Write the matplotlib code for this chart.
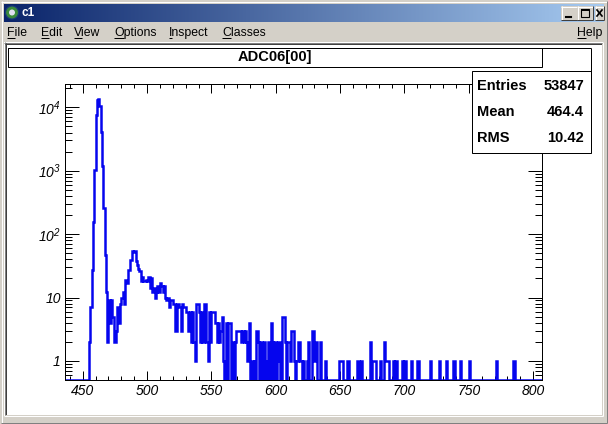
import numpy as np
import matplotlib
matplotlib.use("Agg")
import matplotlib.pyplot as plt
from matplotlib.patches import Rectangle
from matplotlib.ticker import FixedLocator, MultipleLocator, NullFormatter

plt.rcParams['font.family'] = ['Liberation Sans', 'DejaVu Sans']
plt.rcParams['mathtext.fontset'] = 'custom'
plt.rcParams['mathtext.rm'] = 'Liberation Sans:italic'
plt.rcParams['mathtext.it'] = 'Liberation Sans:italic'
plt.rcParams['mathtext.bf'] = 'Liberation Sans:bold'

# ---------------- data ----------------
window_title = "c1"
menu_items = ["File", "Edit", "View", "Options", "Inspect", "Classes"]
help_item = "Help"
hist_title = "ADC06[00]"
stats_names = ["Entries", "Mean", "RMS"]
stats_values = ["53847", "464.4", "10.42"]

axis_first_edge = 436
axis_last_edge = 807
main_first_bin = 455
main_counts = [
    2, 7, 27, 157, 1030, 7600, 13000, 13400, 10500, 4150, 1200, 260, 47, 12,   # 455-468
    2, 9, 4, 9, 5, 2, 2, 3, 7, 4, 8,                                           # 469-479
    10, 12, 8, 19, 17, 27, 27, 39, 55, 52,                                     # 480-489
    55, 37, 33, 28, 26, 18, 21, 18, 18, 19,                                    # 490-499
    18, 21, 14, 20, 12, 14, 10, 12, 15, 12,                                    # 500-509
    17, 15, 12, 15, 10, 9, 10, 7, 9, 9,                                        # 510-519
    8, 8, 3, 8, 8, 7, 3, 8, 7, 7,                                              # 520-529
    6, 6, 3, 6, 2, 6, 2, 1, 8, 8,                                              # 530-539
    6, 2, 6, 2, 8, 8, 2, 1, 6, 2,                                              # 540-549
    6, 6, 6, 4, 2, 4, 2, 3, 5, 1,                                              # 550-559
    0, 4, 0, 4, 4, 0, 2, 0, 2, 3,                                              # 560-569
    3, 3, 3, 2, 3, 2, 3, 2, 1, 4,                                              # 570-579
    0, 1, 0, 1, 0, 3, 2, 0, 2, 0,                                              # 580-589
    1, 2, 0, 1, 2, 0, 4, 2, 0, 2,                                              # 590-599
    0, 1, 2, 0, 0, 5, 5, 2, 0, 2,                                              # 600-609
    2, 1, 3, 3, 1, 0, 1, 2, 2, 1,                                              # 610-619
    0, 1, 0, 0, 1, 2, 0, 0, 3, 3,                                              # 620-629
    1, 2, 0, 0, 2, 0, 0, 0, 1, 0,                                              # 630-639
]
tail_bins = [649, 650, 651, 655, 656, 663, 664, 666, 673, 675, 676, 677, 681,
             684, 685, 686, 687, 691, 693, 698, 700, 705, 710, 720, 727, 732,
             738, 743, 750, 771, 784, 785]
tail_counts = [1, 1, 1, 1, 1, 1, 1, 1, 2, 1, 1, 1, 1,
               2, 1, 1, 1, 1, 1, 1, 1, 1, 1, 1, 1, 1,
               1, 1, 1, 1, 1, 1]

x_ticks = [450, 500, 550, 600, 650, 700, 750, 800]
y_ticks = [1, 10, 100, 1000, 10000]
y_tick_labels = ["1", "10", r"$\mathregular{10^{2}}$", r"$\mathregular{10^{3}}$",
                 r"$\mathregular{10^{4}}$"]
y_min, y_max = 0.5, 2.33e4

# build histogram
edges = np.arange(axis_first_edge, axis_last_edge + 1)
counts = np.zeros(len(edges) - 1)
i0 = main_first_bin - axis_first_edge
counts[i0:i0 + len(main_counts)] = main_counts
for b, c in zip(tail_bins, tail_counts):
    counts[b - axis_first_edge] = c
draw_vals = np.where(counts > 0, counts, y_min)

# ---------------- figure & chrome ----------------
W, H = 608, 424
fig = plt.figure(figsize=(W / 100, H / 100), dpi=100)
fig.patch.set_facecolor('#d4d0c8')

bg = fig.add_axes([0, 0, 1, 1], zorder=0)
bg.set_xlim(0, W)
bg.set_ylim(H, 0)
bg.axis('off')
px = 0.72  # 1 pixel in points

def hline(a, x0, x1, y, c, lw=px):
    a.plot([x0, x1], [y, y], color=c, lw=lw, solid_capstyle='butt')

def vline(a, x, y0, y1, c, lw=px):
    a.plot([x, x], [y0, y1], color=c, lw=lw, solid_capstyle='butt')

# outer window border
hline(bg, 0, W, 0.5, '#d4d0c8'); vline(bg, 0.5, 0, H, '#d4d0c8')
hline(bg, 1, W - 1, 1.5, 'white'); vline(bg, 1.5, 1, H - 1, 'white')
hline(bg, 0, W, H - 0.5, '#404040'); vline(bg, W - 0.5, 0, H, '#404040')
hline(bg, 1, W - 1, H - 1.5, '#808080'); vline(bg, W - 1.5, 1, H - 1, '#808080')

# title bar gradient
c0 = np.array([10, 36, 106]) / 255.0
c1 = np.array([166, 202, 240]) / 255.0
t = np.linspace(0, 1, 300)[None, :, None]
grad = c0 + (c1 - c0) * t
bg.imshow(grad, extent=(4, W - 4, 22, 4), aspect='auto', interpolation='bilinear', zorder=1)
bg.set_xlim(0, W)
bg.set_ylim(H, 0)

# icon
bg.add_patch(plt.Circle((12, 12.5), 6.5, facecolor='#3a8a3a', edgecolor='#1a3a7a', lw=0.8, zorder=2))
bg.add_patch(plt.Circle((12, 12.5), 3.0, facecolor='#e0e0f0', edgecolor='none', zorder=3))
bg.text(22, 13, window_title, color='white', fontsize=8.5, fontweight='bold',
        va='center', ha='left', zorder=3)

# caption buttons
for bx0, bw, glyph in [(561, 16, 'min'), (577, 16, 'max'), (595, 16, 'close')]:
    bx1 = min(bx0 + bw, W - 4)
    bg.add_patch(Rectangle((bx0, 6), bx1 - bx0, 14, facecolor='#d4d0c8',
                           edgecolor='none', zorder=2))
    hline(bg, bx0, bx1, 6.5, 'white'); vline(bg, bx0 + 0.5, 6, 20, 'white')
    hline(bg, bx0, bx1, 19.5, '#404040'); vline(bg, bx1 - 0.5, 6, 20, '#404040')
    cx = (bx0 + bx1) / 2
    if glyph == 'min':
        bg.plot([cx - 3, cx + 2], [16.5, 16.5], color='black', lw=1.5, zorder=4)
    elif glyph == 'max':
        bg.add_patch(Rectangle((cx - 4, 9), 8, 8, facecolor='none', edgecolor='black', lw=0.8, zorder=4))
        hline(bg, cx - 4, cx + 4, 9.7, 'black', lw=1.4)
    else:
        bg.plot([cx - 2.5, cx + 2.5], [10, 16], color='black', lw=1.2, zorder=4)
        bg.plot([cx - 2.5, cx + 2.5], [16, 10], color='black', lw=1.2, zorder=4)

# menu bar
menu_x = [7, 41, 74, 114, 169, 222]
menu_base = 36
fig.canvas.draw()
renderer = fig.canvas.get_renderer()
inv = bg.transData.inverted()
for name, mx in list(zip(menu_items, menu_x)) + [(help_item, 577)]:
    bg.text(mx, menu_base, name, fontsize=8.8, va='baseline', ha='left', color='black')
    t1 = bg.text(mx, menu_base, name[0], fontsize=8.8, va='baseline', ha='left', alpha=0)
    bb = t1.get_window_extent(renderer)
    (xa, _), (xb, _) = inv.transform([[bb.x0, bb.y0], [bb.x1, bb.y1]])
    hline(bg, xa, xb, menu_base + 1.5, 'black')

# canvas (sunken)
cx0, cy0, cx1, cy1 = 4, 42, W - 5, H - 8
bg.add_patch(Rectangle((cx0, cy0), cx1 - cx0, cy1 - cy0, facecolor='white', edgecolor='none', zorder=1))
hline(bg, cx0, cx1, cy0 + 0.5, '#808080'); vline(bg, cx0 + 0.5, cy0, cy1, '#808080')
hline(bg, cx0 + 1, cx1 - 1, cy0 + 1.5, '#404040'); vline(bg, cx0 + 1.5, cy0 + 1, cy1 - 1, '#404040')
hline(bg, cx0, cx1, cy1 - 0.5, 'white'); vline(bg, cx1 - 0.5, cy0, cy1, 'white')
hline(bg, cx0 + 1, cx1 - 1, cy1 - 1.5, '#d4d0c8'); vline(bg, cx1 - 1.5, cy0 + 1, cy1 - 1, '#d4d0c8')

# ---------------- histogram axes ----------------
L, R, T, B = 65, 542, 84, 380
ax = fig.add_axes([L / W, 1 - B / H, (R - L) / W, (B - T) / H], zorder=1)
ax.set_facecolor('white')
ax.stairs(draw_vals, edges, color='#0505ee', lw=1.8, baseline=None, zorder=2)
ax.set_yscale('log')
ax.set_xlim(axis_first_edge + 0.2, axis_last_edge - 0.1)
ax.set_ylim(y_min, y_max)

ax.xaxis.set_major_locator(FixedLocator(x_ticks))
ax.xaxis.set_minor_locator(MultipleLocator(10))
ax.set_xticklabels([str(v) for v in x_ticks])
ax.yaxis.set_major_locator(FixedLocator(y_ticks))
minors = [m * 10 ** e for e in range(-1, 5) for m in range(2, 10)]
ax.yaxis.set_minor_locator(FixedLocator(minors))
ax.yaxis.set_minor_formatter(NullFormatter())
ax.set_yticklabels(y_tick_labels)

for s in ax.spines.values():
    s.set_linewidth(px)
    s.set_color('black')
ax.tick_params(axis='both', which='both', direction='in', top=True, right=True,
               width=px, color='black', labelsize=10)
ax.tick_params(axis='x', which='major', length=6.4, pad=3)
ax.tick_params(axis='x', which='minor', length=3.2)
ax.tick_params(axis='y', which='major', length=10.3, pad=3)
ax.tick_params(axis='y', which='minor', length=5.1)
for lab in ax.get_xticklabels() + ax.get_yticklabels():
    lab.set_fontstyle('italic')

# ---------------- title & stats boxes ----------------
fg = fig.add_axes([0, 0, 1, 1], zorder=3)
fg.set_xlim(0, W)
fg.set_ylim(H, 0)
fg.patch.set_alpha(0)
fg.axis('off')

# title pave
fg.add_patch(Rectangle((7.5, 47.5), 534, 19, facecolor='white', edgecolor='black', lw=px))
hline(fg, 7.5, 590.5, 47.5, 'black')
vline(fg, 590.5, 47.5, 71.5, 'black')
fg.text((7.5 + 541.5) / 2, 57.5, hist_title, fontsize=10.5, fontweight='bold',
        ha='center', va='center')

# stats pave
fg.add_patch(Rectangle((471.5, 70.5), 119, 82, facecolor='white', edgecolor='black', lw=px))
row_y = [86, 112, 138]
for name, val, ry in zip(stats_names, stats_values, row_y):
    fg.text(477, ry, name, fontsize=10.5, fontweight='bold', ha='left', va='center')
    fg.text(584, ry, val, fontsize=10.5, fontweight='bold', ha='right', va='center')

fig.savefig('out.png', dpi=100, facecolor=fig.get_facecolor())
